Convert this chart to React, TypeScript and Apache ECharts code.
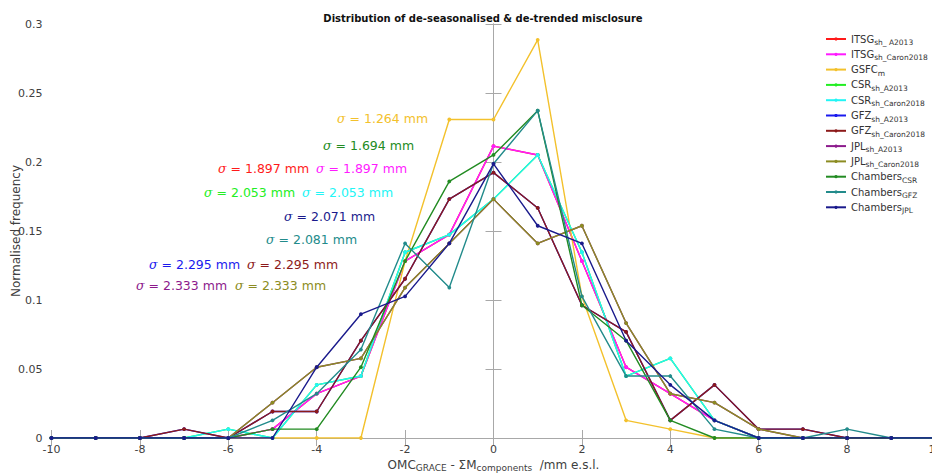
import React, { useEffect, useRef } from 'react';
import * as echarts from 'echarts';

// x positions of the histogram bins (mm e.s.l.)
const xValues = [-10, -9, -8, -7, -6, -5, -4, -3, -2, -1, 0, 1, 2, 3, 4, 5, 6, 7, 8, 9, 10];

// normalised frequencies
const itsgA2013 = [0, 0, 0, 0, 0, 0.0064, 0.0321, 0.0449, 0.1282, 0.1474, 0.2115, 0.2051, 0.1282, 0.0513, 0.0321, 0.0128, 0, 0, 0, 0, 0];
const itsgCaron = [0, 0, 0, 0, 0, 0.0064, 0.0321, 0.0449, 0.1282, 0.1474, 0.2115, 0.2051, 0.1282, 0.0513, 0.0321, 0.0128, 0, 0, 0, 0, 0];
const gsfcM = [0, 0, 0, 0, 0, 0, 0, 0, 0.1282, 0.2308, 0.2308, 0.2885, 0.1026, 0.0128, 0.0064, 0, 0, 0, 0, 0, 0];
const csrA2013 = [0, 0, 0, 0, 0.0064, 0, 0.0385, 0.0449, 0.1346, 0.1474, 0.1731, 0.2051, 0.1346, 0.0449, 0.0577, 0.0128, 0, 0, 0, 0, 0];
const csrCaron = [0, 0, 0, 0, 0.0064, 0, 0.0385, 0.0449, 0.1346, 0.1474, 0.1731, 0.2051, 0.1346, 0.0449, 0.0577, 0.0128, 0, 0, 0, 0, 0];
const gfzA2013 = [0, 0, 0, 0.0064, 0, 0.0192, 0.0192, 0.0705, 0.1154, 0.1731, 0.1923, 0.1667, 0.0962, 0.0769, 0.0128, 0.0385, 0.0064, 0.0064, 0, 0, 0];
const gfzCaron = [0, 0, 0, 0.0064, 0, 0.0192, 0.0192, 0.0705, 0.1154, 0.1731, 0.1923, 0.1667, 0.0962, 0.0769, 0.0128, 0.0385, 0.0064, 0.0064, 0, 0, 0];
const jplA2013 = [0, 0, 0, 0, 0, 0.0256, 0.0513, 0.0577, 0.109, 0.141, 0.1731, 0.141, 0.1538, 0.0833, 0.0321, 0.0256, 0.0064, 0, 0, 0, 0];
const jplCaron = [0, 0, 0, 0, 0, 0.0256, 0.0513, 0.0577, 0.109, 0.141, 0.1731, 0.141, 0.1538, 0.0833, 0.0321, 0.0256, 0.0064, 0, 0, 0, 0];
const chambersCSR = [0, 0, 0, 0, 0, 0.0064, 0.0064, 0.0513, 0.1282, 0.1859, 0.2051, 0.2372, 0.0962, 0.0705, 0.0128, 0, 0, 0, 0, 0, 0];
const chambersGFZ = [0, 0, 0, 0, 0, 0.0128, 0.0321, 0.0641, 0.141, 0.109, 0.1987, 0.2372, 0.1026, 0.0449, 0.0449, 0.0064, 0, 0, 0.0064, 0, 0];
const chambersJPL = [0, 0, 0, 0, 0, 0, 0.0513, 0.0897, 0.1026, 0.141, 0.1987, 0.1538, 0.141, 0.0705, 0.0385, 0.0128, 0, 0, 0, 0, 0];

const seriesValues = [itsgA2013, itsgCaron, gsfcM, csrA2013, csrCaron, gfzA2013, gfzCaron, jplA2013, jplCaron, chambersCSR, chambersGFZ, chambersJPL];
const legendMain = ['ITSG', 'ITSG', 'GSFC', 'CSR', 'CSR', 'GFZ', 'GFZ', 'JPL', 'JPL', 'Chambers', 'Chambers', 'Chambers'];
const legendSub = ['sh_ A2013', 'sh_Caron2018', 'm', 'sh_A2013', 'sh_Caron2018', 'sh_A2013', 'sh_Caron2018', 'sh_A2013', 'sh_Caron2018', 'CSR', 'GFZ', 'JPL'];
const colors = ['#ff1a1a', '#ff1aff', '#f3c12c', '#22ee22', '#22f5f5', '#1a1aee', '#8c1a1a', '#8c1a8c', '#8c8c22', '#228b22', '#228b8b', '#1a1a8c'];

// sigma annotations
const sigmaTexts = ['1.264', '1.694', '1.897', '1.897', '2.053', '2.053', '2.071', '2.081', '2.295', '2.295', '2.333', '2.333'];
const sigmaSeries = [2, 9, 0, 1, 3, 4, 11, 10, 5, 6, 7, 8];
const sigmaPos = [
  [337, 118], [323, 145], [218, 168], [316, 168], [204, 192], [302, 192],
  [284, 216], [266, 239], [149, 264], [247, 264], [136, 285], [235, 285],
];

const FONT = 'DejaVu Sans, sans-serif';

export default function App() {
  const ref = useRef<HTMLDivElement>(null);
  useEffect(() => {
    if (!ref.current) return;
    const chart = echarts.init(ref.current, undefined, { renderer: 'svg' });
    const names = legendMain.map((m, i) => m + '_' + legendSub[i]);

    const series: any[] = seriesValues.map((vals, i) => ({
      type: 'line',
      name: names[i],
      data: xValues.map((x, j) => [x, vals[j]]),
      symbol: 'circle',
      symbolSize: 3.8,
      showSymbol: true,
      lineStyle: { width: 1.4, color: colors[i] },
      itemStyle: { color: colors[i] },
      emphasis: { disabled: true },
      z: 3 + i,
      ...(i === 0
        ? {
            markLine: {
              silent: true,
              symbol: 'none',
              label: { show: false },
              lineStyle: { color: '#a8a8a8', type: 'solid', width: 1 },
              data: [{ xAxis: 0 }],
              z: 1,
            },
          }
        : {}),
    }));

    const graphics: any[] = sigmaTexts.map((t, k) => ({
      type: 'text',
      x: sigmaPos[k][0],
      y: sigmaPos[k][1],
      silent: true,
      style: {
        text: '{g|σ} = ' + t + ' mm',
        fill: colors[sigmaSeries[k]],
        fontSize: 12.5,
        fontFamily: FONT,
        align: 'left',
        verticalAlign: 'middle',
        rich: {
          g: { fontStyle: 'italic', fontFamily: 'DejaVu Serif, serif', fontSize: 12.5, fill: colors[sigmaSeries[k]] },
        },
      },
    }));

    const axisCommon = {
      type: 'value',
      axisLine: { show: true, lineStyle: { color: '#a8a8a8', width: 1 } },
      axisTick: { show: true, inside: true, length: 8, lineStyle: { color: '#a8a8a8' } },
      splitLine: { show: false },
    };

    chart.setOption({
      animation: false,
      color: colors,
      title: {
        text: 'Distribution of de-seasonalised & de-trended misclosure',
        left: 478,
        top: 8,
        textAlign: 'center',
        textStyle: { fontFamily: FONT, fontSize: 10, fontWeight: 'bold', color: '#111' },
      },
      grid: { left: 51.5, right: -3.5, top: 24, bottom: 35, containLabel: false, outerBoundsMode: 'none' },
      legend: {
        data: names,
        orient: 'vertical',
        left: 825,
        top: 34,
        padding: 0,
        itemWidth: 20,
        itemHeight: 4,
        itemGap: 2.8,
        selectedMode: false,
        formatter: (name: string) => {
          const i = names.indexOf(name);
          return '{b|' + legendMain[i] + '}{s|' + legendSub[i] + '}';
        },
        textStyle: {
          fontFamily: FONT,
          color: '#333',
          rich: {
            b: { fontFamily: FONT, fontSize: 10, color: '#333', lineHeight: 15, verticalAlign: 'middle' },
            s: { fontFamily: FONT, fontSize: 7.5, color: '#333', lineHeight: 9, verticalAlign: 'bottom' },
          },
        },
      },
      xAxis: [
        {
          ...axisCommon,
          min: -10,
          max: 10,
          interval: 2,
          position: 'bottom',
          axisLabel: { fontFamily: FONT, fontSize: 11, color: '#404040', margin: 6 },
          name: 'OMC{s|GRACE} - ΣM{s|components}  /mm e.s.l.',
          nameLocation: 'middle',
          nameGap: 20,
          nameMoveOverlap: false,
          nameTextStyle: {
            fontFamily: FONT,
            fontSize: 12,
            color: '#404040',
            rich: {
              s: { fontFamily: FONT, fontSize: 9, color: '#404040', padding: [5, 0, 0, 0] },
            },
          },
        },
        {
          ...axisCommon,
          min: -10,
          max: 10,
          interval: 2,
          position: 'top',
          axisLabel: { show: false },
        },
      ],
      yAxis: [
        {
          ...axisCommon,
          min: 0,
          max: 0.3,
          interval: 0.05,
          position: 'left',
          axisLabel: { fontFamily: FONT, fontSize: 11, color: '#404040', margin: 9 },
          name: 'Normalised frequency',
          nameLocation: 'middle',
          nameGap: 30,
          nameMoveOverlap: false,
          nameTextStyle: { fontFamily: FONT, fontSize: 12, color: '#404040' },
        },
        {
          ...axisCommon,
          min: 0,
          max: 0.3,
          interval: 0.05,
          position: 'right',
          axisLabel: { show: false },
        },
      ],
      series,
      graphic: graphics,
    });
    return () => chart.dispose();
  }, []);

  return <div ref={ref} style={{ position: 'fixed', left: 0, top: 0, width: 932, height: 473, background: '#fff' }} />;
}
